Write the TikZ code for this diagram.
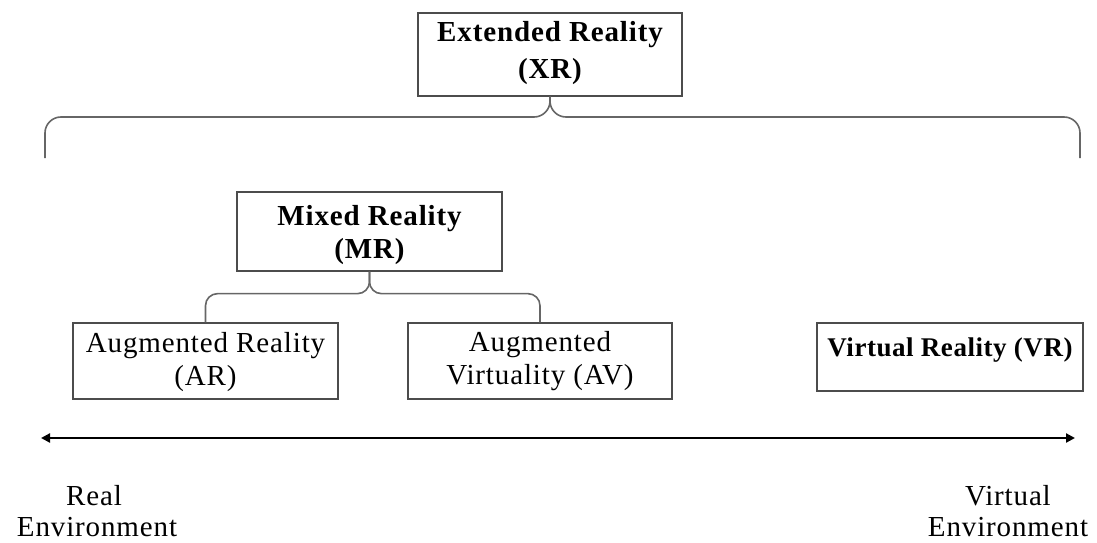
\documentclass[tikz,border=0pt]{standalone}
\usepackage{fontspec}
\setmainfont{Liberation Serif}[LetterSpace=3]
\usetikzlibrary{arrows.meta}
\begin{document}
\begin{tikzpicture}[x=1pt,y=-1pt,
  box/.style={draw=black!70, line width=1.3pt, inner sep=0pt, fill=white},
  txt/.style={anchor=base, inner sep=0pt, font=\fontsize{29}{34}\selectfont},
  txtb/.style={anchor=base, inner sep=0pt, font=\fontsize{29}{34}\selectfont\bfseries},
  brace/.style={draw=black!60, line width=1.6pt},
  axis/.style={draw=black, line width=2.2pt, {Triangle[length=9pt,width=9pt]}-{Triangle[length=9pt,width=9pt]}}]
\useasboundingbox (0,0) rectangle (1097,543);
% boxes
\node[box, minimum width=264, minimum height=83] (xr) at (550,54.5) {};
\node[box, minimum width=265, minimum height=79] (mr) at (369.5,231.5) {};
\node[box, minimum width=265, minimum height=76] (ar) at (205.5,361) {};
\node[box, minimum width=264, minimum height=76] (av) at (540,361) {};
\node[box, minimum width=266, minimum height=68] (vr) at (950,357) {};
% texts
\node[txtb] (xr1) at (550,42) {Extended Reality};
\node[txtb] (xr2) at (550,78) {(XR)};
\node[txtb] (mr1) at (369.5,225) {Mixed Reality};
\node[txtb] (mr2) at (369.5,258) {(MR)};
\node[txt] (ar1) at (205.5,352) {Augmented Reality};
\node[txt] (ar2) at (205.5,385) {(AR)};
\node[txt] (av1) at (540,351) {Augmented};
\node[txt] (av2) at (540,384) {Virtuality (AV)};
\node[txtb, font=\fontsize{27}{32}\selectfont\bfseries\addfontfeature{LetterSpace=2}] (vr1) at (950,356) {Virtual Reality (VR)};
% big brace
\coordinate (bl) at (45,117);
\coordinate (br) at (1080,117);
\draw[brace, rounded corners=16pt] (xr.south) |- (bl) -- ++(0,41);
\draw[brace, rounded corners=16pt] (xr.south) |- (br) -- ++(0,41);
% MR brace
\draw[brace, rounded corners=12pt] (mr.south) -- ++(0,22) -| (ar.north);
\draw[brace, rounded corners=12pt] (mr.south) -- ++(0,22) -| (av.north);
% axis
\coordinate (re) at (41,438);
\coordinate (ve) at (1075,438);
\draw[axis] (re) -- (ve);
\node[txt] (real) at (94,505) {Real};
\node[txt] (renv) at (97,536) {Environment};
\node[txt] (virt) at (1008,505) {Virtual};
\node[txt] (venv) at (1008,536) {Environment};
\end{tikzpicture}
\end{document}
